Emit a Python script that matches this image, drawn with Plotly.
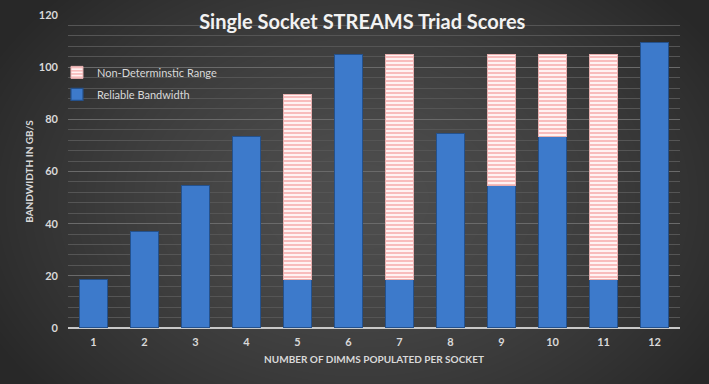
import plotly.graph_objects as go
import numpy as np
import zlib, struct, base64

dimms = ["1", "2", "3", "4", "5", "6", "7", "8", "9", "10", "11", "12"]
reliable = [18.5, 37, 54.5, 73.5, 18.5, 105, 18.5, 74.5, 54.5, 73.5, 18.5, 109.5]
nondet = [None, None, None, None, 71, None, 86.5, None, 50.5, 31.5, 86.5, None]

W, H = 709, 384
ML, MR, MT, MB = 68, 29, 15, 56
PW, PH = W - ML - MR, H - MT - MB

# radial gradient background image (style only)
yy, xx = np.mgrid[0:H, 0:W]
r = np.sqrt(((xx - 360) / 420.0) ** 2 + ((yy - 200) / 300.0) ** 2)
v = 78 - 38 * np.clip(r, 0, 1) ** 1.4
img = np.clip(v, 0, 255).astype(np.uint8)
raw = b"".join(b"\x00" + bytes(np.repeat(row[:, None], 3, axis=1).flatten()) for row in img)
def chunk(t, d):
    c = struct.pack(">I", len(d)) + t + d
    return c + struct.pack(">I", zlib.crc32(t + d) & 0xffffffff)
png = b"\x89PNG\r\n\x1a\n" + chunk(b"IHDR", struct.pack(">IIBBBBB", W, H, 8, 2, 0, 0, 0)) \
      + chunk(b"IDAT", zlib.compress(raw, 9)) + chunk(b"IEND", b"")
bg_uri = "data:image/png;base64," + base64.b64encode(png).decode()

fig = go.Figure()
fig.add_trace(go.Bar(
    x=dimms, y=reliable, name="Reliable Bandwidth", legendrank=2, legendgroup="rel",
    marker=dict(color="#3d7acb", line=dict(color="#24518c", width=1.2)),
))
fig.add_trace(go.Bar(
    x=dimms, y=nondet, name="Non-Determinstic Range", legendrank=1, legendgroup="nd",
    marker=dict(color="#ffffff",
                pattern=dict(shape="-", fgcolor="#ee6b6b", bgcolor="#fff2f2", size=4, solidity=0.4),
                line=dict(color="#e8b0b0", width=1)),
))

fig.add_layout_image(dict(
    source=bg_uri, xref="paper", yref="paper",
    x=-ML / PW, y=1 + MT / PH, sizex=W / PW, sizey=H / PH,
    xanchor="left", yanchor="top", sizing="stretch", layer="below",
))

fig.update_layout(
    width=W, height=H,
    barmode="stack", bargap=0.46,
    paper_bgcolor="#3a3a3a", plot_bgcolor="rgba(0,0,0,0)",
    margin=dict(l=ML, r=MR, t=MT, b=MB),
    font=dict(family="Lato, Open Sans, sans-serif", color="#d9d9d9", size=11),
    title=dict(text="<b>Single Socket STREAMS Triad Scores</b>", x=0.511, xanchor="center",
               y=0.943, yanchor="middle", font=dict(size=20, color="#f2f2f2")),
    showlegend=True,
    legend=dict(x=-0.018, y=0.863, xanchor="left", yanchor="top", traceorder="grouped",
                tracegroupgap=3,
                bgcolor="rgba(0,0,0,0)", font=dict(size=11, color="#d9d9d9"),
                itemwidth=30),
)
fig.update_xaxes(
    showgrid=False, ticks="", tickfont=dict(size=11, color="#d9d9d9", weight="bold"),
    ticklabelstandoff=6,
    title=dict(text="<b>NUMBER OF DIMMS POPULATED PER SOCKET</b>", font=dict(size=10, color="#d9d9d9"), standoff=8),
    showline=False,
)
fig.update_yaxes(
    range=[0, 120], dtick=20, showgrid=True, gridcolor="#6a6a6a", gridwidth=1,
    minor=dict(dtick=4, showgrid=True, gridcolor="#555555", gridwidth=1),
    zeroline=True, zerolinecolor="#c8c8c8", zerolinewidth=1.5,
    tickfont=dict(size=11, color="#d9d9d9", weight="bold"), ticklabelstandoff=9,
    automargin=False,
    title=dict(text="<b>BANDWIDTH IN GB/S</b>", font=dict(size=10, color="#d9d9d9"), standoff=3),
)

fig.write_html("out.html", config={"displayModeBar": False},
               post_script="document.body.style.margin='0';document.body.style.overflow='hidden';")
